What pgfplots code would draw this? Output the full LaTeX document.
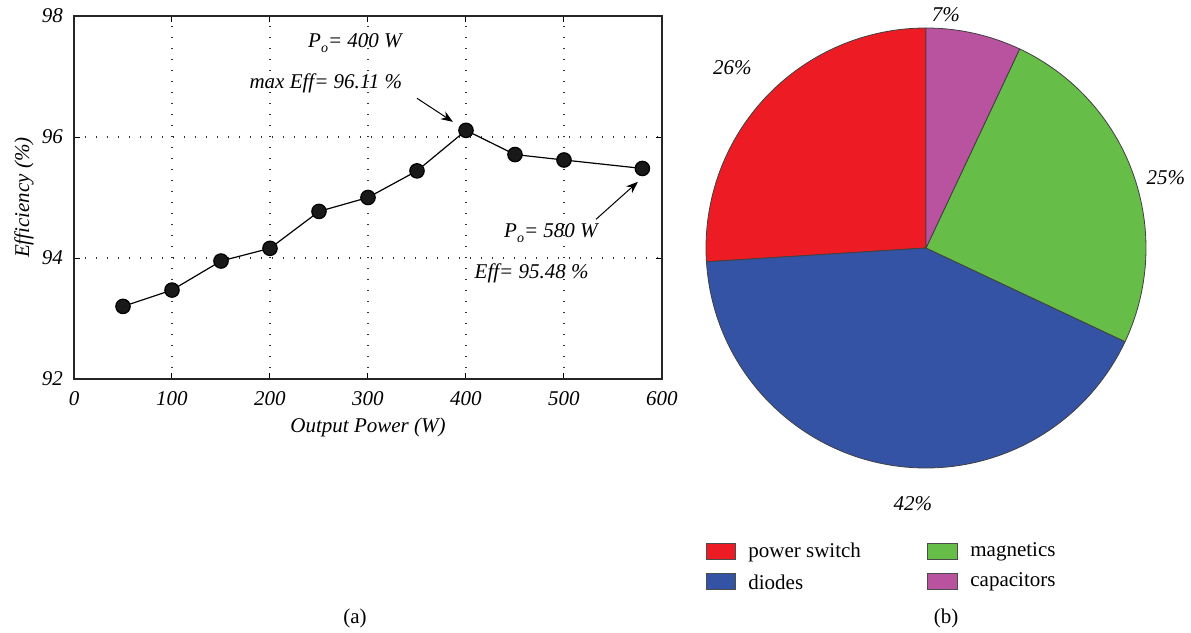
\documentclass[border=0pt]{standalone}
\usepackage{pgfplots}
\pgfplotsset{compat=1.18}
\usepackage{pgfplotstable}
\usetikzlibrary{arrows.meta}
\usepackage{fontspec}
\setmainfont{Liberation Serif}
\definecolor{pwred}{HTML}{ED1C24}
\definecolor{pwblue}{HTML}{3453A4}
\definecolor{pwgreen}{HTML}{66BD47}
\definecolor{pwpink}{HTML}{B953A0}
\pgfplotstableread{
P Eff
50 93.20
100 93.47
150 93.95
200 94.16
250 94.77
300 95.00
350 95.44
400 96.11
450 95.71
500 95.62
580 95.48
}\efftable
\newcommand{\fs}{\fontsize{10.5}{12.5}\selectfont}
\begin{document}
\begin{tikzpicture}
\useasboundingbox (0,0) rectangle (595.5pt,316.5pt);
\begin{axis}[
  at={(37pt,127pt)}, anchor=south west,
  scale only axis, width=294pt, height=181.5pt,
  xmin=0, xmax=600, ymin=92, ymax=98,
  xtick={0,100,...,600}, ytick={92,94,96,98},
  grid=major, grid style={dash pattern=on 0.7pt off 4.8pt, black!80, line width=0.6pt},
  tick align=inside, major tick length=3pt,
  tick style={black, line width=0.5pt},
  axis line style={black!85, line width=0.6pt},
  /pgf/number format/assume math mode=true,
  ticklabel style={font=\fs\itshape},
  xticklabel style={yshift=-2.5pt},
  yticklabel style={xshift=-2pt},
  xlabel={Output Power (W)}, ylabel={Efficiency (\%)},
  label style={font=\fs\itshape},
  xlabel style={at={(axis description cs:0.5,-0.1322)}, anchor=center},
  ylabel style={at={(axis description cs:-0.085,0.5)}, anchor=center},
]
\addplot[black, line width=0.6pt, mark=*, mark size=3.6pt, mark options={fill=black!90}] table[x=P, y=Eff] {\efftable};
\node[font=\fs\itshape] at (axis cs:286.7,97.55) {P\raisebox{-0.5ex}{\scriptsize o}= 400 W};
\node[font=\fs\itshape] at (axis cs:257,96.89) {max Eff= 96.11 \%};
\draw[-{Stealth[length=6pt,width=4.5pt]}, black, line width=0.5pt] (axis cs:350,96.64) -- (axis cs:386.7,96.25);
\node[font=\fs\itshape] at (axis cs:486.7,94.41) {P\raisebox{-0.5ex}{\scriptsize o}= 580 W};
\node[font=\fs\itshape] at (axis cs:467,93.75) {Eff= 95.48 \%};
\draw[-{Stealth[length=6pt,width=4.5pt]}, black, line width=0.5pt] (axis cs:532.7,94.64) -- (axis cs:575.5,95.26);
\end{axis}
\begin{axis}[
  at={(463pt,192.5pt)}, anchor=center,
  scale only axis, width=220pt, height=220pt,
  xmin=-1, xmax=1, ymin=-1, ymax=1,
  axis lines=none, clip=false,
]
\pgfplotsextra{
  \xdef\acc{90}
  \foreach \p/\c in {26/pwred,42/pwblue,25/pwgreen,7/pwpink}{
    \pgfmathsetmacro\a{\acc}
    \pgfmathsetmacro\b{\acc+3.6*\p}
    \fill[\c, draw=black!75, line width=0.4pt] (axis cs:0,0) -- (axis cs:{cos(\a)},{sin(\a)}) arc[start angle=\a, end angle=\b, radius=110pt] -- cycle;
    \xdef\acc{\b}
  }
}
\node[font=\fs\itshape] at (axis cs:-0.88,0.82) {26\%};
\node[font=\fs\itshape] at (axis cs:0.09,1.06) {7\%};
\node[font=\fs\itshape] at (axis cs:1.09,0.32) {25\%};
\node[font=\fs\itshape] at (axis cs:-0.06,-1.16) {42\%};
\end{axis}
% legend
\draw[fill=pwred, draw=black!70, line width=0.5pt] (353pt,36.5pt) rectangle (367.5pt,44.5pt);
\node[anchor=west, font=\fs, inner sep=0pt] at (374pt,40.5pt) {power switch};
\draw[fill=pwblue, draw=black!70, line width=0.5pt] (353pt,21.5pt) rectangle (367.5pt,29.5pt);
\node[anchor=west, font=\fs, inner sep=0pt] at (374pt,25.5pt) {diodes};
\draw[fill=pwgreen, draw=black!70, line width=0.5pt] (463.5pt,36.5pt) rectangle (478.5pt,44.5pt);
\node[anchor=west, font=\fs, inner sep=0pt] at (485pt,40.5pt) {magnetics};
\draw[fill=pwpink, draw=black!70, line width=0.5pt] (463.5pt,21.5pt) rectangle (478.5pt,29.5pt);
\node[anchor=west, font=\fs, inner sep=0pt] at (485pt,25.5pt) {capacitors};
\node[font=\fs] at (177.5pt,7.5pt) {(a)};
\node[font=\fs] at (473pt,7.5pt) {(b)};
\end{tikzpicture}
\end{document}
